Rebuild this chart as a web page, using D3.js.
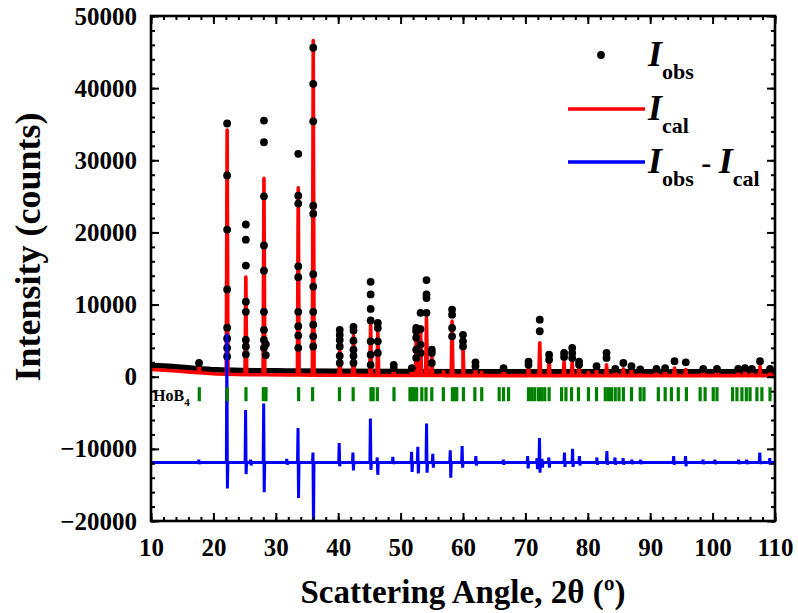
<!DOCTYPE html>
<html>
<head>
<meta charset="utf-8">
<script src="https://cdn.jsdelivr.net/npm/d3@7"></script>
<style>
  body { margin: 0; background: #fff; }
  svg { font-family: "Liberation Serif", "Times New Roman", serif; font-weight: bold; }
</style>
</head>
<body>
<script>
// axis ticks
var xMajor = [10, 20, 30, 40, 50, 60, 70, 80, 90, 100, 110];
var xMinor = d3.range(10, 111, 2);
var yMajor = [-20000, -10000, 0, 10000, 20000, 30000, 40000, 50000];
var yMinor = d3.range(-20000, 50001, 2000);

// background read along the baseline
var bgAngle = [10, 13.5, 17, 20.5, 25, 32, 40, 60, 80, 110];
var bgCalc = [1000, 830, 600, 380, 290, 240, 200, 150, 150, 150];
var bgObs = [1550, 1400, 1150, 950, 850, 800, 750, 700, 700, 700];

// calculated peaks (angle, top intensity)
var calcPos = [17.7, 22.2, 25.2, 28.1, 33.6, 36.0, 40.25, 42.45, 45.2, 46.35, 48.9, 51.8, 52.5, 53.2, 54.15, 55.0, 56.9, 58.25, 60.0, 62.0, 63.0, 66.5, 70.5, 72.3, 73.8, 76.2, 77.5, 78.6, 80.1, 81.4, 83.0, 84.4, 85.7, 87.0, 88.4, 91.0, 92.4, 93.9, 95.7, 98.5, 100.7, 104.1, 105.2, 106.3, 107.6, 109.2];
var calcTop = [1650, 34200, 13800, 27500, 26200, 46600, 3900, 5700, 7450, 6500, 1000, 900, 5400, 6900, 8150, 2750, 700, 7700, 4200, 1200, 600, 1000, 1450, 4700, 2450, 2100, 2100, 1450, 600, 1000, 1650, 900, 1100, 900, 700, 700, 800, 1200, 1000, 700, 700, 700, 800, 700, 1450, 800];

// observed points at the peaks
var obsPos = [17.7, 22.2, 25.2, 28.1, 28.4, 33.6, 36.0, 40.25, 42.45, 45.2, 46.35, 48.9, 51.8, 52.5, 53.2, 54.15, 55.0, 58.25, 60.0, 62.0, 66.5, 70.5, 72.3, 73.8, 76.2, 77.5, 78.6, 81.4, 83.0, 84.4, 85.7, 87.0, 88.4, 91.0, 92.4, 93.9, 95.7, 98.5, 100.7, 104.1, 105.2, 106.3, 107.6, 109.2];
var obsVals = [
  [1900],
  [35100, 27900, 20400, 12100, 6800, 5300, 4000, 2800],
  [21100, 19000, 15400, 10400, 9000, 5100, 4200, 3100],
  [35500, 32500, 25000, 18200, 14700, 9000, 6500, 5100, 4000],
  [4500, 3000],
  [30900, 25100, 24000, 15300, 13800, 9000, 7000, 5700, 4000],
  [45600, 40600, 35400, 23700, 22600, 14200, 12500, 9000, 7200, 5600, 4200],
  [6500, 5800, 5100, 4200, 2900, 1900],
  [6900, 6400, 5000, 3750, 2900, 1900],
  [13150, 11400, 9400, 7800, 4900, 3050, 1650],
  [7450, 6750, 4900, 3300],
  [1650, 1200],
  [1200],
  [6750, 6300, 5400, 3750, 2600],
  [8850, 6600, 4450, 3300],
  [13400, 11400, 10900, 8850],
  [3750, 3300, 1900],
  [9300, 8600, 6750, 5600],
  [5800, 4900, 4200],
  [2000, 1450],
  [1200],
  [2100, 1650],
  [7900, 6300],
  [3050, 2350],
  [3300, 2750],
  [4000, 3300, 2600],
  [2100, 1650],
  [1450],
  [3300, 2600],
  [1100],
  [1900],
  [1450],
  [1000],
  [1100],
  [1200],
  [2150],
  [2000],
  [1100],
  [1100],
  [1100],
  [1200],
  [1100],
  [2150],
  [1100]
];

// difference curve (offset baseline, spike top and bottom)
var diffBase = -11900;
var diffPos = [17.7, 22.2, 25.2, 26.0, 28.1, 31.8, 33.6, 36.0, 40.2, 42.4, 45.2, 46.3, 48.8, 51.8, 52.8, 54.2, 55.2, 58.0, 59.9, 62.1, 66.5, 70.4, 71.9, 72.3, 72.7, 73.8, 76.3, 77.6, 78.7, 81.5, 83.1, 84.4, 85.7, 87.1, 88.5, 93.8, 95.7, 98.5, 100.4, 104.2, 105.5, 107.6, 109.2];
var diffHigh = [-11500, 6000, -4600, -11500, -3700, -11400, -7100, -10500, -9200, -10500, -5800, -11200, -11100, -10400, -9700, -6500, -10700, -10200, -9600, -11000, -11500, -11000, -11300, -8500, -11400, -11200, -10500, -10000, -11000, -11200, -10300, -11200, -11300, -11500, -11500, -11000, -11000, -11500, -11500, -11500, -11500, -10500, -11300];
var diffLow = [-12100, -15500, -13500, -12300, -16000, -12200, -16800, -21000, -12400, -13000, -12900, -13600, -12100, -13200, -13400, -13300, -12600, -14000, -12600, -12300, -12200, -12700, -12800, -13300, -12600, -12600, -12500, -12500, -12300, -12200, -12200, -12200, -12200, -12100, -12100, -12200, -12400, -12100, -12100, -12100, -12100, -12100, -12200];

// HoB4 Bragg reflections
var braggPos = [17.74, 22.23, 25.22, 28.0, 28.43, 33.66, 35.9, 40.2, 42.4, 45.26, 45.6, 46.27, 48.94, 51.5, 51.8, 52.1, 52.57, 53.4, 54.07, 55.0, 56.85, 58.3, 58.7, 59.0, 60.07, 61.9, 63.0, 65.8, 66.5, 67.3, 70.5, 71.0, 71.5, 72.1, 72.6, 73.1, 73.8, 75.8, 76.5, 77.4, 78.5, 80.1, 81.4, 82.8, 83.3, 83.8, 84.4, 85.0, 85.7, 87.0, 88.4, 89.0, 91.3, 92.4, 93.4, 94.5, 95.8, 98.0, 98.8, 100.1, 100.7, 103.2, 103.9, 104.7, 105.4, 106.0, 107.1, 107.9, 109.2];
var braggTop = -1450, braggBottom = -3400;

var W = 798, H = 613;
var L = 151, R = 775, T = 16, B = 521;

var svg = d3.select("body").append("svg").attr("width", W).attr("height", H);

var x = d3.scaleLinear().domain([10, 110]).range([L, R]);
var y = d3.scaleLinear().domain([-20000, 50000]).range([B, T]);

svg.append("defs").append("clipPath").attr("id", "plot")
  .append("rect").attr("x", L).attr("y", T).attr("width", R - L).attr("height", B - T);

var plot = svg.append("g").attr("clip-path", "url(#plot)");

// observed baseline (dense dots merge into a thick line)
var line = d3.line().x(function (d) { return x(d[0]); }).y(function (d) { return y(d[1]); });
var obsBase = bgAngle.map(function (a, i) { return [a, bgObs[i]]; });
plot.append("path").datum(obsBase)
  .attr("d", line.curve(d3.curveMonotoneX))
  .attr("fill", "none").attr("stroke", "#000").attr("stroke-width", 5.5).attr("stroke-linecap", "round");

// calculated pattern
var bgCalcAt = d3.scaleLinear().domain(bgAngle).range(bgCalc);
var calcPts = bgAngle.map(function (a, i) { return [a, bgCalc[i]]; });
calcPos.forEach(function (p, i) {
  calcPts.push([p - 0.14, bgCalcAt(p - 0.14)]);
  calcPts.push([p, calcTop[i]]);
  calcPts.push([p + 0.14, bgCalcAt(p + 0.14)]);
});
calcPts.sort(function (a, b) { return a[0] - b[0]; });
plot.append("path").datum(calcPts)
  .attr("d", line.curve(d3.curveLinear))
  .attr("fill", "none").attr("stroke", "#ff0000").attr("stroke-width", 3.6).attr("stroke-linejoin", "round");

// observed points
var dots = [];
obsPos.forEach(function (p, i) {
  obsVals[i].forEach(function (v) { dots.push([p, v]); });
});
plot.selectAll("circle.obs").data(dots).enter().append("circle")
  .attr("class", "obs")
  .attr("cx", function (d) { return x(d[0]); })
  .attr("cy", function (d) { return y(d[1]); })
  .attr("r", 3.9).attr("fill", "#000");

// difference
var diffPts = [[10, diffBase]];
diffPos.forEach(function (p, i) {
  diffPts.push([p - 0.12, diffBase]);
  diffPts.push([p - 0.04, diffHigh[i]]);
  diffPts.push([p + 0.04, diffLow[i]]);
  diffPts.push([p + 0.12, diffBase]);
});
diffPts.push([110, diffBase]);
plot.append("path").datum(diffPts)
  .attr("d", line.curve(d3.curveLinear))
  .attr("fill", "none").attr("stroke", "#0000ff").attr("stroke-width", 3);

// Bragg ticks
plot.selectAll("line.bragg").data(braggPos).enter().append("line")
  .attr("class", "bragg")
  .attr("x1", function (d) { return x(d); }).attr("x2", function (d) { return x(d); })
  .attr("y1", y(braggTop)).attr("y2", y(braggBottom))
  .attr("stroke", "#008000").attr("stroke-width", 3.2);

var hob = svg.append("text").attr("x", L + 2).attr("y", 401).attr("font-size", 16).attr("fill", "#000");
hob.append("tspan").text("HoB");
hob.append("tspan").attr("dy", 5).attr("font-size", 11).text("4");

// axes: inward ticks on all four sides
function styleAxis(g) {
  g.select(".domain").remove();
  g.selectAll(".tick line").attr("stroke", "#000").attr("stroke-width", 2);
  g.selectAll("text").attr("fill", "#000").attr("font-size", 25)
    .attr("font-family", "Liberation Serif, Times New Roman, serif").attr("font-weight", "bold");
}

svg.append("g").attr("transform", "translate(0," + B + ")")
  .call(d3.axisBottom(x).tickValues(xMajor).tickSizeInner(-8).tickSizeOuter(0).tickPadding(17).tickFormat(d3.format("d")))
  .call(styleAxis);
svg.append("g").attr("transform", "translate(0," + B + ")")
  .call(d3.axisBottom(x).tickValues(xMinor).tickSizeInner(-4).tickSizeOuter(0).tickFormat(""))
  .call(styleAxis);
svg.append("g").attr("transform", "translate(0," + T + ")")
  .call(d3.axisTop(x).tickValues(xMajor).tickSizeInner(-8).tickSizeOuter(0).tickFormat(""))
  .call(styleAxis);
svg.append("g").attr("transform", "translate(0," + T + ")")
  .call(d3.axisTop(x).tickValues(xMinor).tickSizeInner(-4).tickSizeOuter(0).tickFormat(""))
  .call(styleAxis);

svg.append("g").attr("transform", "translate(" + L + ",0)")
  .call(d3.axisLeft(y).tickValues(yMajor).tickSizeInner(-8).tickSizeOuter(0).tickPadding(14).tickFormat(d3.format("d")))
  .call(styleAxis);
svg.append("g").attr("transform", "translate(" + L + ",0)")
  .call(d3.axisLeft(y).tickValues(yMinor).tickSizeInner(-4).tickSizeOuter(0).tickFormat(""))
  .call(styleAxis);
svg.append("g").attr("transform", "translate(" + R + ",0)")
  .call(d3.axisRight(y).tickValues(yMajor).tickSizeInner(-8).tickSizeOuter(0).tickFormat(""))
  .call(styleAxis);
svg.append("g").attr("transform", "translate(" + R + ",0)")
  .call(d3.axisRight(y).tickValues(yMinor).tickSizeInner(-4).tickSizeOuter(0).tickFormat(""))
  .call(styleAxis);

svg.append("rect").attr("x", L).attr("y", T).attr("width", R - L).attr("height", B - T)
  .attr("fill", "none").attr("stroke", "#000").attr("stroke-width", 2.6);

// axis titles
svg.append("text").attr("x", (L + R) / 2).attr("y", 603).attr("text-anchor", "middle")
  .attr("font-size", 33).text("Scattering Angle, 2\u03b8 (\u00ba)");
svg.append("text").attr("transform", "translate(40,247) rotate(-90)").attr("text-anchor", "middle")
  .attr("font-size", 36).text("Intensity (counts)");

// legend
var leg = svg.append("g");
leg.append("circle").attr("cx", 601).attr("cy", 55).attr("r", 3.9).attr("fill", "#000");
leg.append("line").attr("x1", 568).attr("x2", 645).attr("y1", 109).attr("y2", 109)
  .attr("stroke", "#ff0000").attr("stroke-width", 3.4);
leg.append("line").attr("x1", 568).attr("x2", 645).attr("y1", 162).attr("y2", 162)
  .attr("stroke", "#0000ff").attr("stroke-width", 3.4);

function legText(yy, parts) {
  var t = leg.append("text").attr("x", 648).attr("y", yy).attr("fill", "#000");
  var shift = 0;
  parts.forEach(function (p) {
    var s = t.append("tspan").text(p[0]);
    if (p[1] == "I") { s.attr("font-size", 36).attr("font-style", "italic"); }
    else if (p[1] == "sub") { s.attr("font-size", 22); }
    else { s.attr("font-size", 30); }
    var target = p[1] == "sub" ? 13 : 0;
    if (target != shift) { s.attr("dy", target - shift); shift = target; }
  });
}
legText(66, [["I", "I"], ["obs", "sub"]]);
legText(120, [["I", "I"], ["cal", "sub"]]);
legText(173, [["I", "I"], ["obs", "sub"], [" - ", "n"], ["I", "I"], ["cal", "sub"]]);
</script>
</body>
</html>
